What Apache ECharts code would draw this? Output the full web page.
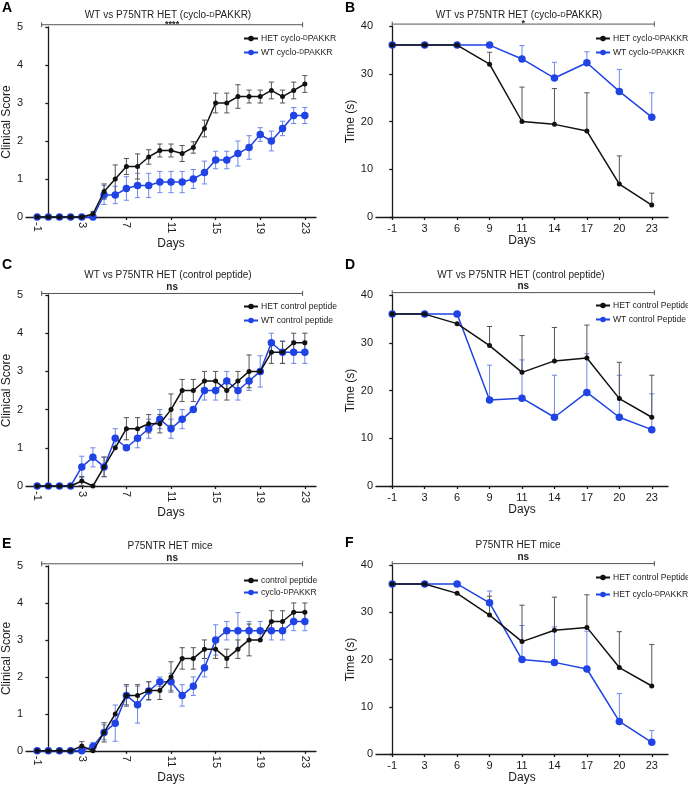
<!DOCTYPE html>
<html><head><meta charset="utf-8">
<script src="https://cdn.jsdelivr.net/npm/echarts@6/dist/echarts.min.js"></script>
<style>html,body{margin:0;padding:0;background:#fff}#c{width:688px;height:785px}</style>
</head><body><div id="c"></div>
<script>
// ---------- data ----------
const dailyDays = [-1,0,1,2,3,4,5,6,7,8,9,10,11,12,13,14,15,16,17,18,19,20,21,22,23];
const dailyTicks = [-1,3,7,11,15,19,23];
const sessionDays = ['-1','3','6','9','11','14','17','20','23'];

// Panel A: clinical score, cyclo-DPAKKR
const A_het     = [0,0,0,0,0,0.08,0.67,1.0,1.33,1.33,1.58,1.75,1.75,1.67,1.83,2.33,3.0,3.0,3.17,3.17,3.17,3.33,3.17,3.33,3.5];
const A_het_err = [0,0,0,0,0,0.07,0.2,0.37,0.21,0.33,0.19,0.17,0.17,0.21,0.15,0.22,0.26,0.26,0.31,0.17,0.17,0.22,0.17,0.22,0.22];
const A_wt      = [0,0,0,0,0,0,0.58,0.58,0.75,0.83,0.83,0.92,0.92,0.92,1.0,1.17,1.5,1.5,1.67,1.83,2.17,2.0,2.33,2.67,2.67];
const A_wt_err  = [0,0,0,0,0,0,0.25,0.23,0.31,0.32,0.32,0.28,0.28,0.28,0.25,0.3,0.23,0.23,0.33,0.31,0.18,0.26,0.19,0.21,0.21];

// Panel C: clinical score, control peptide
const C_het     = [0,0,0,0,0.13,0,0.5,1.0,1.5,1.5,1.63,1.63,2.0,2.5,2.5,2.75,2.75,2.5,2.75,3.0,3.0,3.5,3.5,3.75,3.75];
const C_het_err = [0,0,0,0,0.12,0,0.26,0,0.29,0.29,0.24,0.24,0.41,0.29,0.29,0.25,0.25,0.25,0.25,0.43,0,0.29,0.29,0.25,0.25];
const C_wt      = [0,0,0,0,0.5,0.75,0.5,1.25,1.0,1.25,1.5,1.75,1.5,1.75,2.0,2.5,2.5,2.75,2.5,2.75,3.0,3.75,3.5,3.5,3.5];
const C_wt_err  = [0,0,0,0,0.28,0.25,0.25,0.25,0,0.25,0.25,0.25,0.25,0.25,0,0.25,0.25,0.25,0.25,0.25,0.41,0.25,0.29,0.29,0.29];

// Panel E: clinical score, HET mice
const E_ctrl     = [0,0,0,0,0.13,0,0.5,1.0,1.5,1.5,1.63,1.63,2.0,2.5,2.5,2.75,2.75,2.5,2.75,3.0,3.0,3.5,3.5,3.75,3.75];
const E_ctrl_err = [0,0,0,0,0.12,0,0.26,0,0.29,0.29,0.24,0.24,0.41,0.29,0.29,0.25,0.25,0.25,0.25,0.43,0,0.29,0.29,0.25,0.25];
const E_cyc      = [0,0,0,0,0,0.12,0.5,0.75,1.5,1.25,1.62,1.87,1.87,1.5,1.75,2.25,3.0,3.25,3.25,3.25,3.25,3.25,3.25,3.5,3.5];
const E_cyc_err  = [0,0,0,0,0,0.11,0.2,0.49,0.25,0.5,0.25,0.13,0.23,0.29,0.25,0.25,0.41,0.25,0.49,0.25,0.25,0.25,0.25,0.25,0.25];

// Panel B: time (s), cyclo-DPAKKR
const B_het     = [36,36,36,32,20,19.4,18,6.9,2.5];
const B_het_err = [0,0,0,2.5,7.2,7.5,8,5.9,2.5];
const B_wt      = [36,36,36,36,33.1,29.1,32.3,26.3,20.9];
const B_wt_err  = [0,0,0,0,2.8,3.3,2.3,4.6,5.1];

// Panel D: time (s), control peptide
const D_het     = [36,36,34,29.4,23.8,26.2,26.8,18.3,14.4];
const D_het_err = [0,0,0,4.0,7.7,7.0,6.9,7.6,8.8];
const D_wt      = [36,36,36,18,18.4,14.4,19.6,14.4,11.8];
const D_wt_err  = [0,0,0,7.3,8.0,8.8,8.1,8.8,7.5];

// Panel F: time (s), HET mice
const F_ctrl     = [36,36,34,29.4,23.8,26.2,26.8,18.3,14.4];
const F_ctrl_err = [0,0,0,4.0,7.7,7.0,6.9,7.6,8.8];
const F_cyc      = [36,36,36,32,20,19.4,18,6.9,2.5];
const F_cyc_err  = [0,0,0,2.5,7.2,7.5,8,5.9,2.5];

// ---------- style ----------
const FONT = 'Liberation Sans, Arial, Helvetica, sans-serif';
const BLACK = '#111111', BLUE = '#1f43e4', BLACK_ERR = '#555555', BLUE_ERR = '#6f87ec';
const sessionIdx = sessionDays.map((d, i) => i);

const panels = [
  {letter:'A', title:'WT vs P75NTR HET (cyclo-{sc|D}PAKKR)', kind:'score', grid:{left:24, top:27, width:292, height:190},
   titlePos:[168, 10], letterPos:[2, 1], legendPos:[243, 34], legendGap:5, sig:{x1:-0.6, x2:22.8, y:5.06, text:'****'},
   lines:[{name:'HET cyclo-DPAKKR#A', color:'k', y:A_het, e:A_het_err},
          {name:'WT cyclo-DPAKKR#A', color:'b', y:A_wt, e:A_wt_err}]},
  {letter:'B', title:'WT vs P75NTR HET (cyclo-{sc|D}PAKKR)', kind:'time', grid:{left:376, top:26, width:292, height:191},
   titlePos:[519, 10], letterPos:[345, 1], legendPos:[595, 34], legendGap:5, sig:{x1:0, x2:8.08, y:40.4, text:'*'},
   lines:[{name:'HET cyclo-DPAKKR#B', color:'k', y:B_het, e:B_het_err},
          {name:'WT cyclo-DPAKKR#B', color:'b', y:B_wt, e:B_wt_err}]},
  {letter:'C', title:'WT vs P75NTR HET (control peptide)', kind:'score', grid:{left:24, top:295, width:292, height:191},
   titlePos:[168, 270], letterPos:[2, 258], legendPos:[243, 302], legendGap:5, sig:{x1:-0.6, x2:22.8, y:5.04, text:'ns'},
   lines:[{name:'HET control peptide#C', color:'k', y:C_het, e:C_het_err},
          {name:'WT control peptide#C', color:'b', y:C_wt, e:C_wt_err}]},
  {letter:'D', title:'WT vs P75NTR HET (control peptide)', kind:'time', grid:{left:376, top:295, width:292, height:191},
   titlePos:[521, 270], letterPos:[345, 258], legendPos:[595, 301], legendGap:5, sig:{x1:0, x2:8.08, y:40.5, text:'ns'},
   lines:[{name:'HET control Peptide#D', color:'k', y:D_het, e:D_het_err},
          {name:'WT control Peptide#D', color:'b', y:D_wt, e:D_wt_err}]},
  {letter:'E', title:'P75NTR HET mice', kind:'score', grid:{left:24, top:566, width:292, height:190},
   titlePos:[170, 541], letterPos:[2, 537], legendPos:[243, 576], legendGap:3, sig:{x1:-0.6, x2:22.8, y:5.06, text:'ns'},
   lines:[{name:'control peptide#E', color:'k', y:E_ctrl, e:E_ctrl_err},
          {name:'cyclo-DPAKKR#E', color:'b', y:E_cyc, e:E_cyc_err}]},
  {letter:'F', title:'P75NTR HET mice', kind:'time', grid:{left:376, top:565, width:292, height:191},
   titlePos:[518, 540], letterPos:[345, 536], legendPos:[595, 573], legendGap:8, sig:{x1:0, x2:8.08, y:40.3, text:'ns'},
   lines:[{name:'HET control Peptide#F', color:'k', y:F_ctrl, e:F_ctrl_err},
          {name:'HET cyclo-DPAKKR#F', color:'b', y:F_cyc, e:F_cyc_err}]}
];

const axisLineStyle = {color:'#1a1a1a', width:1.3};
const option = {
  animation:false, backgroundColor:'#fff',
  textStyle:{fontFamily:FONT},
  grid:[], xAxis:[], yAxis:[], title:[], legend:[], series:[]
};

function errRender(oneSided, color) {
  return function (params, api) {
    const x = api.value(0), y = api.value(1), e = api.value(2);
    if (!(e > 0)) return null;
    const top = api.coord([x, y + e]);
    const base = api.coord([x, oneSided ? y : y - e]);
    const hw = 2.6;
    const st = {stroke: color, lineWidth: 1};
    const ch = [
      {type:'line', shape:{x1:top[0], y1:top[1], x2:base[0], y2:base[1]}, style:st},
      {type:'line', shape:{x1:top[0]-hw, y1:top[1], x2:top[0]+hw, y2:top[1]}, style:st}
    ];
    if (!oneSided) ch.push({type:'line', shape:{x1:base[0]-hw, y1:base[1], x2:base[0]+hw, y2:base[1]}, style:st});
    return {type:'group', children:ch};
  };
}

panels.forEach((p, gi) => {
  option.grid.push(Object.assign({containLabel:false}, p.grid));
  const isScore = p.kind === 'score';
  const xs = isScore ? dailyDays : sessionIdx;
  option.xAxis.push({
    type:'value', gridIndex:gi,
    min: isScore ? -2 : -0.5, max: isScore ? 24 : 8.5,
    name:'Days', nameLocation:'middle', nameGap: 14,
    nameTextStyle:{fontSize:12, color:'#1a1a1a', fontFamily:FONT},
    axisLine:{show:true, onZero:false, lineStyle:axisLineStyle},
    axisTick:{show:true, length:3, lineStyle:axisLineStyle, customValues: isScore ? dailyTicks : sessionIdx},
    axisLabel:{color:'#1a1a1a', fontSize:11, fontFamily:FONT, margin: isScore ? 5 : 6,
      rotate: isScore ? -90 : 0,
      customValues: isScore ? dailyTicks : sessionIdx,
      formatter: isScore ? (v => String(v)) : (v => sessionDays[Math.round(v)])},
    splitLine:{show:false}
  });
  option.yAxis.push({
    type:'value', gridIndex:gi, min:0, max: isScore ? 5 : 40, interval: isScore ? 1 : 10,
    name: isScore ? 'Clinical Score' : 'Time (s)', nameLocation:'middle', nameGap: isScore ? 11 : 19,
    nameTextStyle:{fontSize:12, color:'#1a1a1a', fontFamily:FONT},
    axisLine:{show:true, lineStyle:axisLineStyle},
    axisTick:{show:true, length:3, lineStyle:axisLineStyle},
    axisLabel:{color:'#1a1a1a', fontSize:11, fontFamily:FONT, margin:3},
    splitLine:{show:false}
  });
  option.title.push({
    text:p.title, left:p.titlePos[0], top:p.titlePos[1], textAlign:'center', padding:0,
    textStyle:{fontSize:10, fontWeight:'normal', color:'#222', fontFamily:FONT, rich:{sc:{fontSize:7.5, color:'#222', fontFamily:FONT}}}
  });
  option.title.push({
    text:p.letter, left:p.letterPos[0], top:p.letterPos[1], padding:0,
    textStyle:{fontSize:14, fontWeight:'bold', color:'#000', fontFamily:FONT}
  });
  option.legend.push({
    data: p.lines.map(l => l.name), left:p.legendPos[0], top:p.legendPos[1], orient:'vertical',
    itemWidth:14, itemHeight:7, itemGap:p.legendGap, padding:0, selectedMode:false,
    formatter: n => n.replace(/#.*$/, '').replace('-D', '-{sc|D}'),
    textStyle:{fontSize:8.6, color:'#222', fontFamily:FONT, padding:[0,0,0,-2], rich:{sc:{fontSize:6.5, color:'#222', fontFamily:FONT}}}
  });
  // significance bar
  option.series.push({
    type:'custom', xAxisIndex:gi, yAxisIndex:gi, silent:true, z:1,
    data:[[p.sig.x1, p.sig.x2, p.sig.y]], encode:{x:[0,1], y:2},
    renderItem: function (params, api) {
      const p1 = api.coord([api.value(0), api.value(2)]);
      const p2 = api.coord([api.value(1), api.value(2)]);
      const st = {stroke:'#555', lineWidth:1};
      const stars = p.sig.text !== 'ns';
      return {type:'group', children:[
        {type:'line', shape:{x1:p1[0], y1:p1[1], x2:p2[0], y2:p2[1]}, style:st},
        {type:'line', shape:{x1:p1[0], y1:p1[1]-2.5, x2:p1[0], y2:p1[1]+2.5}, style:st},
        {type:'line', shape:{x1:p2[0], y1:p2[1]-2.5, x2:p2[0], y2:p2[1]+2.5}, style:st},
        {type:'text', style:{text:p.sig.text, x:(p1[0]+p2[0])/2, y: stars ? p1[1]+4 : p1[1]-1, align:'center', verticalAlign:'bottom',
          font:'bold ' + (stars ? 9 : 10) + 'px ' + FONT, fill:'#222'}}
      ]};
    }
  });
  // error bars then lines; blue drawn first, black on top
  const ordered = [p.lines[1], p.lines[0]];
  ordered.forEach((l, k) => {
    const isK = l.color === 'k';
    option.series.push({
      type:'custom', xAxisIndex:gi, yAxisIndex:gi, silent:true, z: 2 + k,
      data: xs.map((x, i) => [x, l.y[i], l.e[i]]), encode:{x:0, y:1},
      renderItem: errRender(!isScore, isK ? BLACK_ERR : BLUE_ERR)
    });
  });
  ordered.forEach((l, k) => {
    const isK = l.color === 'k';
    option.series.push({
      type:'line', name:l.name, xAxisIndex:gi, yAxisIndex:gi, z: 4 + k,
      data: xs.map((x, i) => [x, l.y[i]]),
      symbol:'circle', symbolSize: isK ? 5 : 7.5, showSymbol:true,
      lineStyle:{color: isK ? BLACK : BLUE, width:1.5},
      itemStyle:{color: isK ? BLACK : BLUE},
      clip:false
    });
  });
});

const chart = echarts.init(document.getElementById('c'), null, {renderer:'canvas'});
chart.setOption(option);
</script>
</body></html>
